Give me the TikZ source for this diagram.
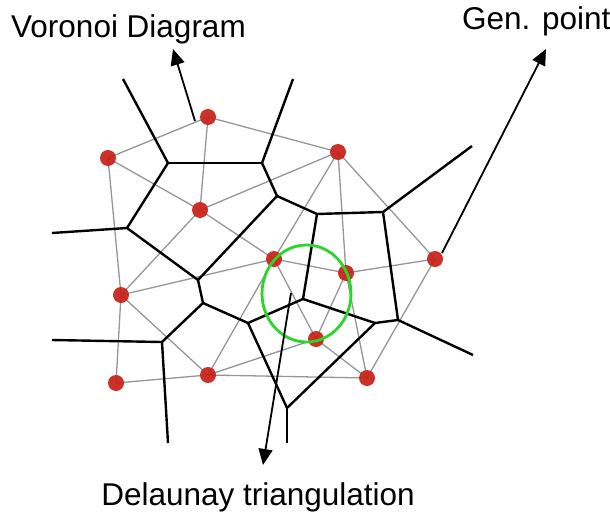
\documentclass[tikz,border=0pt]{standalone}
\usepackage{fontspec}
\setmainfont{Liberation Sans}
\usetikzlibrary{arrows.meta}
\definecolor{dotred}{RGB}{200,32,22}
\definecolor{edgegray}{RGB}{150,150,150}
\definecolor{circgreen}{RGB}{40,215,40}
\tikzset{
  site/.style={circle,fill=dotred,inner sep=0pt,minimum size=16pt},
  vor/.style={black,line width=2.4pt,line join=round},
  del/.style={edgegray,line width=1.3pt},
  lbl/.style={font=\fontsize{31.5}{36}\selectfont,inner sep=0pt},
  callout/.style={black,line width=1.8pt,-{Triangle[length=16pt,width=14pt]}}
}
\begin{document}
\begin{tikzpicture}[x=1pt,y=-1pt]
\useasboundingbox (0,0) rectangle (610,514);
% sites
\coordinate (P1) at (208,117);
\coordinate (P2) at (108,158);
\coordinate (P3) at (338,152);
\coordinate (P4) at (200,210);
\coordinate (P5) at (274,259);
\coordinate (P6) at (346,273);
\coordinate (P7) at (435,259);
\coordinate (P8) at (121,295);
\coordinate (P9) at (316,339);
\coordinate (P10) at (116,383);
\coordinate (P11) at (208,375);
\coordinate (P12) at (367,378);
% voronoi vertices
\coordinate (V1) at (168,163);
\coordinate (V2) at (262,163);
\coordinate (V3) at (127,228);
\coordinate (V4) at (277,196);
\coordinate (V5) at (317,214);
\coordinate (V6) at (383,212);
\coordinate (V7) at (198,280);
\coordinate (V8) at (203,303);
\coordinate (V9) at (162,342);
\coordinate (V10) at (248,323);
\coordinate (V11) at (303,299);
\coordinate (V12) at (287,408);
\coordinate (V13) at (375,323);
\coordinate (V14) at (398,320);
% free ends
\coordinate (E1) at (123,79);
\coordinate (E2) at (293,79);
\coordinate (E3) at (52,233);
\coordinate (E4) at (472,146);
\coordinate (E5) at (52,340);
\coordinate (E6) at (168,443);
\coordinate (E7) at (287,443);
\coordinate (E8) at (473,355);
% Delaunay edges
\foreach \a/\b in {P1/P2,P1/P3,P1/P4,P2/P4,P2/P8,P3/P4,P3/P5,P3/P6,P3/P7,P4/P5,P4/P8,
  P5/P6,P5/P8,P5/P9,P5/P11,P6/P7,P6/P9,P6/P12,P7/P12,P8/P10,P8/P11,P9/P11,P9/P12,P10/P11,P11/P12}
  \draw[del] (\a) -- (\b);
% Voronoi edges
\foreach \a/\b in {V1/E1,V2/E2,V3/E3,V6/E4,V9/E5,V9/E6,V12/E7,V14/E8,
  V1/V2,V1/V3,V2/V4,V4/V5,V5/V6,V4/V7,V3/V7,V7/V8,V8/V9,V8/V10,V10/V11,V10/V12,
  V12/V13,V11/V13,V13/V14,V14/V6,V11/V5}
  \draw[vor] (\a) -- (\b);
% sites
\foreach \p in {P1,P2,P3,P4,P5,P6,P7,P8,P9,P10,P11,P12}
  \node[site,opacity=0.92] (n\p) at (\p) {};
% green circle
\draw[circgreen,line width=2.8pt] (306.5,293.5) ellipse [x radius=44.5, y radius=48.5];
% labels
\node[lbl,anchor=base west] (tv) at (11,37) {Voronoi Diagram};
\node[lbl,anchor=base west] (tg) at (462,29) {Gen. point};
\node[lbl,anchor=base] (td) at (258,505) {Delaunay triangulation};
\coordinate (A1s) at (195,121);
\coordinate (A1t) at (173,49);
\coordinate (A2s) at (442,253);
\coordinate (A2t) at (546,49);
\coordinate (A3s) at (291,293);
\coordinate (A3t) at (263,465);
\draw[callout] (A1s) -- (A1t);
\draw[callout] (A2s) -- (A2t);
\draw[callout] (A3s) -- (A3t);
\end{tikzpicture}
\end{document}
